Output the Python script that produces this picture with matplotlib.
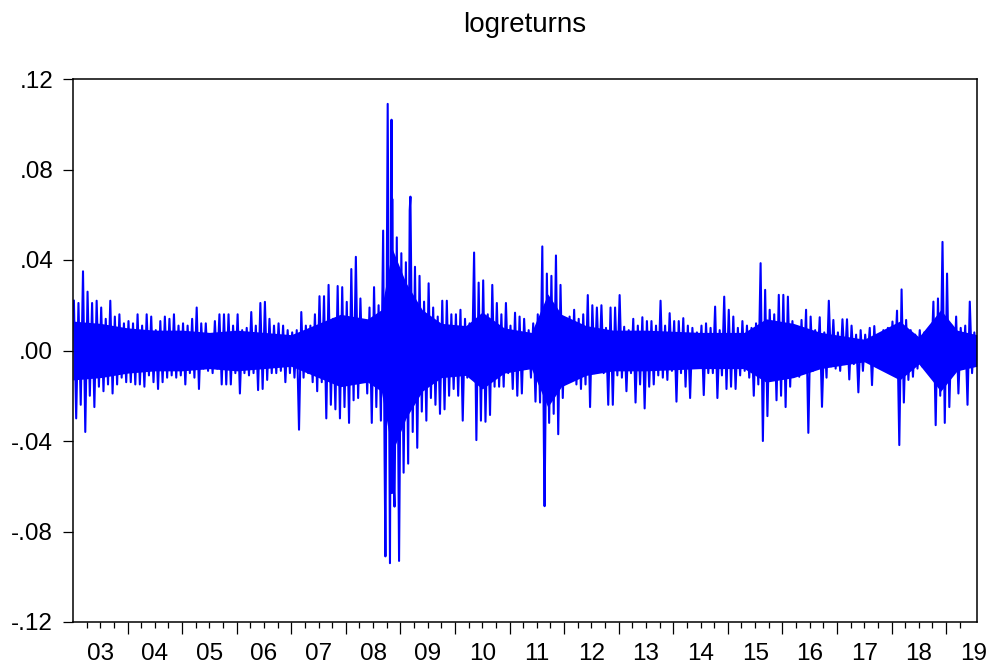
import numpy as np
import matplotlib
matplotlib.use('Agg')
import matplotlib.pyplot as plt
import matplotlib.transforms as mtransforms

plt.rcParams['font.family'] = ['Liberation Sans', 'DejaVu Sans']

# monthly extremes of the daily log returns, Jan 2003 .. Jul 2019
month_high = [
    0.022, 0.021, 0.035, 0.026, 0.021, 0.022, 0.019, 0.014, 0.022, 0.015, 0.016, 0.012,  # 2003
    0.013, 0.012, 0.016, 0.011, 0.016, 0.015, 0.009, 0.013, 0.015, 0.014, 0.016, 0.011,  # 2004
    0.012, 0.011, 0.014, 0.019, 0.012, 0.012, 0.007, 0.013, 0.016, 0.016, 0.016, 0.011,  # 2005
    0.016, 0.009, 0.010, 0.017, 0.011, 0.021, 0.0215, 0.014, 0.011, 0.012, 0.011, 0.009,  # 2006
    0.008, 0.009, 0.017, 0.011, 0.011, 0.016, 0.024, 0.024, 0.029, 0.014, 0.0285, 0.028,  # 2007
    0.0215, 0.036, 0.0414, 0.023, 0.012, 0.019, 0.028, 0.020, 0.053, 0.109, 0.067, 0.050,  # 2008
    0.043, 0.039, 0.068, 0.037, 0.033, 0.0216, 0.0297, 0.019, 0.015, 0.022, 0.022, 0.016,  # 2009
    0.016, 0.018, 0.014, 0.012, 0.0433, 0.030, 0.031, 0.016, 0.029, 0.021, 0.016, 0.021,  # 2010
    0.011, 0.0167, 0.015, 0.014, 0.009, 0.012, 0.016, 0.046, 0.034, 0.033, 0.042, 0.029,  # 2011
    0.014, 0.015, 0.018, 0.014, 0.016, 0.0245, 0.020, 0.019, 0.020, 0.010, 0.019, 0.019,  # 2012
    0.0245, 0.0105, 0.009, 0.014, 0.011, 0.0147, 0.013, 0.013, 0.011, 0.022, 0.011, 0.0165,  # 2013
    0.013, 0.013, 0.0143, 0.011, 0.010, 0.008, 0.011, 0.012, 0.010, 0.0194, 0.009, 0.0238,  # 2014
    0.018, 0.015, 0.010, 0.013, 0.011, 0.010, 0.012, 0.0386, 0.0268, 0.018, 0.016, 0.0246,  # 2015
    0.0246, 0.0238, 0.013, 0.0105, 0.0135, 0.018, 0.015, 0.009, 0.0147, 0.008, 0.022, 0.0135,  # 2016
    0.008, 0.0138, 0.0138, 0.011, 0.007, 0.009, 0.007, 0.010, 0.0108, 0.006, 0.009, 0.010,  # 2017
    0.0128, 0.0176, 0.027, 0.0135, 0.009, 0.007, 0.009, 0.008, 0.009, 0.0216, 0.023, 0.048,  # 2018
    0.034, 0.011, 0.015, 0.010, 0.011, 0.0216, 0.008,  # 2019
]
month_low = [
    -0.030, -0.024, -0.036, -0.020, -0.025, -0.016, -0.018, -0.015, -0.019, -0.015, -0.012, -0.014,  # 2003
    -0.014, -0.015, -0.015, -0.016, -0.011, -0.014, -0.017, -0.014, -0.012, -0.011, -0.012, -0.011,  # 2004
    -0.015, -0.010, -0.012, -0.017, -0.008, -0.009, -0.010, -0.008, -0.015, -0.015, -0.015, -0.010,  # 2005
    -0.019, -0.010, -0.011, -0.010, -0.0175, -0.017, -0.013, -0.010, -0.010, -0.009, -0.014, -0.010,  # 2006
    -0.012, -0.035, -0.012, -0.010, -0.014, -0.018, -0.014, -0.030, -0.024, -0.026, -0.030, -0.025,  # 2007
    -0.032, -0.022, -0.021, -0.013, -0.019, -0.032, -0.025, -0.031, -0.091, -0.094, -0.069, -0.093,  # 2008
    -0.054, -0.050, -0.036, -0.043, -0.027, -0.031, -0.021, -0.024, -0.028, -0.026, -0.020, -0.017,  # 2009
    -0.020, -0.031, -0.012, -0.012, -0.0396, -0.031, -0.0315, -0.0285, -0.016, -0.016, -0.016, -0.010,  # 2010
    -0.017, -0.020, -0.019, -0.008, -0.012, -0.0226, -0.023, -0.0688, -0.032, -0.028, -0.037, -0.021,  # 2011
    -0.008, -0.012, -0.015, -0.017, -0.015, -0.025, -0.010, -0.009, -0.010, -0.024, -0.024, -0.011,  # 2012
    -0.012, -0.018, -0.010, -0.023, -0.015, -0.0256, -0.016, -0.015, -0.011, -0.012, -0.013, -0.009,  # 2013
    -0.0226, -0.010, -0.016, -0.021, -0.007, -0.007, -0.0197, -0.010, -0.010, -0.021, -0.011, -0.017,  # 2014
    -0.016, -0.017, -0.011, -0.009, -0.012, -0.020, -0.015, -0.040, -0.029, -0.010, -0.022, -0.020,  # 2015
    -0.025, -0.016, -0.011, -0.0116, -0.010, -0.0364, -0.009, -0.007, -0.0249, -0.012, -0.007, -0.008,  # 2016
    -0.009, -0.006, -0.0128, -0.006, -0.0185, -0.009, -0.005, -0.0153, -0.007, -0.005, -0.005, -0.005,  # 2017
    -0.006, -0.0418, -0.023, -0.013, -0.0116, -0.008, -0.007, -0.008, -0.007, -0.033, -0.020, -0.032,  # 2018
    -0.025, -0.010, -0.019, -0.008, -0.024, -0.010, -0.006,  # 2019
]
# a few extra single-day spikes
spike_dates = [2008.71, 2008.837, 2008.845, 2008.868, 2009.17, 2011.63]
spike_values = [-0.048, 0.102, -0.063, -0.054, 0.062, -0.045]

# half-width of the dense (solid) core of the series
core_dates = [2003.0, 2003.5, 2004.0, 2004.5, 2005.0, 2005.5, 2006.0, 2006.5, 2007.0,
              2007.5, 2007.9, 2008.4, 2008.65, 2008.85, 2009.1, 2009.4, 2009.75,
              2010.2, 2010.5, 2010.9, 2011.4, 2011.7, 2011.95, 2012.4, 2012.9,
              2013.5, 2014.5, 2015.3, 2015.7, 2016.2, 2016.7, 2017.5, 2018.15,
              2018.5, 2018.9, 2019.2, 2019.56]
core_amp = [0.013, 0.012, 0.010, 0.009, 0.009, 0.008, 0.009, 0.008, 0.007,
            0.012, 0.016, 0.014, 0.018, 0.045, 0.030, 0.018, 0.012,
            0.011, 0.017, 0.010, 0.008, 0.025, 0.016, 0.011, 0.009,
            0.009, 0.008, 0.008, 0.014, 0.012, 0.008, 0.005, 0.013,
            0.006, 0.018, 0.009, 0.007]

year_labels = ['03', '04', '05', '06', '07', '08', '09', '10', '11',
               '12', '13', '14', '15', '16', '17', '18', '19']
ytick_vals = [-0.12, -0.08, -0.04, 0.0, 0.04, 0.08, 0.12]
ytick_labels = ['-.12', '-.08', '-.04', '.00', '.04', '.08', '.12']

# build the time series
m = np.arange(len(month_high))
t0 = 2003 + m / 12.0
t = np.concatenate([t0 + 0.2 / 12, t0 + 0.7 / 12, spike_dates])
v = np.concatenate([month_high, month_low, spike_values])
order = np.argsort(t)
t, v = t[order], v[order]

fig = plt.figure(figsize=(9.87, 6.66), dpi=100)
ax = fig.add_axes([73 / 987, 1 - 622 / 666, (976.7 - 73) / 987, (622 - 79) / 666])

core = np.array(core_amp)
ax.fill_between(core_dates, -core, core, color='#0000ff', lw=0)
ax.plot(t, v, color='#0000ff', lw=1.5)

ax.set_xlim(2003.0, 2019.56)
ax.set_ylim(-0.12, 0.12)

for s in ax.spines.values():
    s.set_linewidth(1.1)
    s.set_color('black')

ax.set_yticks(ytick_vals)
ax.set_yticklabels(ytick_labels)
ax.tick_params(axis='y', direction='out', length=7.3, width=0.9, pad=7, labelsize=17.5, right=False)

# year boundaries = long ticks, quarters = short ticks, labels at mid-year
ax.set_xticks(np.arange(2004, 2020))
ax.set_xticklabels([])
ax.set_xticks([2003 + q / 4 for q in range(1, 66) if q % 4 != 0], minor=True)
ax.tick_params(axis='x', which='major', direction='out', length=8.5, width=0.9, top=False)
ax.tick_params(axis='x', which='minor', direction='out', length=4.3, width=0.9, top=False)

trans = mtransforms.blended_transform_factory(ax.transData, ax.transAxes)
for i, lab in enumerate(year_labels):
    ax.text(2003.5 + i, -(660 - 622) / 543, lab, transform=trans,
            ha='center', va='baseline', fontsize=17.5)

fig.text((73 + 976.7) / 2 / 987, 1 - 31.7 / 666, 'logreturns',
         ha='center', va='baseline', fontsize=20)

fig.savefig('out.png', dpi=100)
